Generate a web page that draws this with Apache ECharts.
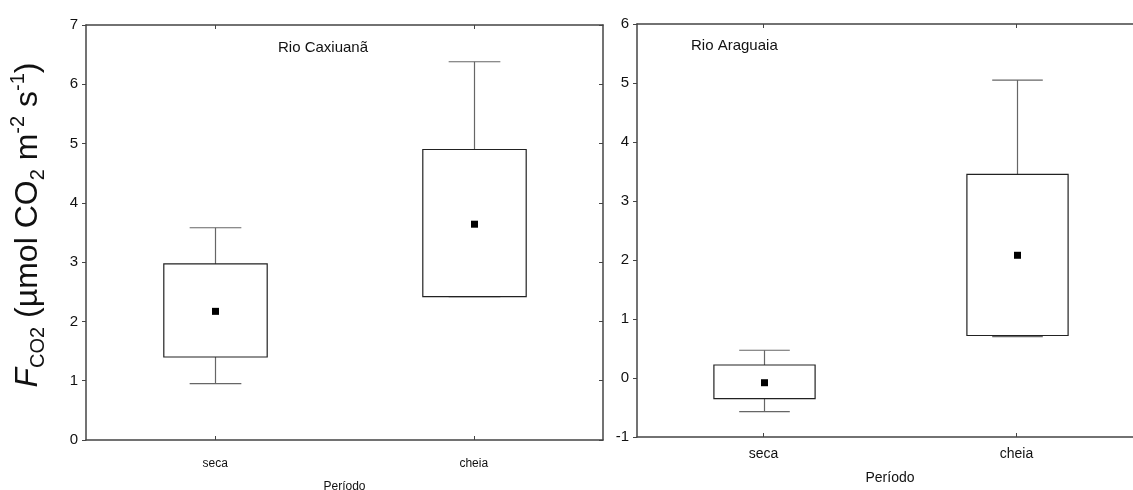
<!DOCTYPE html>
<html>
<head>
<meta charset="utf-8">
<script src="https://cdn.jsdelivr.net/npm/echarts@6/dist/echarts.min.js"></script>
<style>html,body{margin:0;padding:0;background:#fff;}#c{width:1133px;height:490px;}</style>
</head>
<body>
<div id="c"></div>
<script>
const categories = ['seca', 'cheia'];
const yTicksLeft = { min: 0, max: 7, interval: 1 };
const yTicksRight = { min: -1, max: 6, interval: 1 };

// Rio Caxiuanã
const caxMin  = [0.95, 2.42];
const caxQ1   = [1.40, 2.42];
const caxMean = [2.17, 3.64];
const caxQ3   = [2.97, 4.90];
const caxMax  = [3.58, 6.38];

// Rio Araguaia
const araMin  = [-0.57, 0.70];
const araQ1   = [-0.35, 0.72];
const araMean = [-0.08, 2.08];
const araQ3   = [0.22, 3.45];
const araMax  = [0.47, 5.05];

function rows(mn, q1, me, q3, mx) {
  return categories.map((c, i) => [i, mn[i], q1[i], me[i], q3[i], mx[i]]);
}

function renderItem(params, api) {
  const x = api.value(0);
  const mn = api.value(1), q1 = api.value(2), me = api.value(3), q3 = api.value(4), mx = api.value(5);
  const band = api.size([1, 0])[0];
  const bw = band * 0.4, cw = band * 0.2;
  const pMx = api.coord([x, mx]), pQ3 = api.coord([x, q3]), pQ1 = api.coord([x, q1]), pMn = api.coord([x, mn]), pMe = api.coord([x, me]);
  const cx = Math.round(pMx[0]) + 0.5;
  const wStyle = { stroke: '#666', lineWidth: 1.2, fill: null };
  const children = [
    { type: 'line', shape: { x1: cx, y1: pMx[1], x2: cx, y2: pQ3[1] }, style: wStyle },
    { type: 'line', shape: { x1: cx - cw / 2, y1: pMx[1], x2: cx + cw / 2, y2: pMx[1] }, style: wStyle },
    { type: 'line', shape: { x1: cx, y1: pQ1[1], x2: cx, y2: pMn[1] }, style: wStyle },
    { type: 'line', shape: { x1: cx - cw / 2, y1: pMn[1], x2: cx + cw / 2, y2: pMn[1] }, style: wStyle },
    { type: 'rect', shape: { x: cx - bw / 2, y: pQ3[1], width: bw, height: pQ1[1] - pQ3[1] },
      style: { fill: '#fff', stroke: '#222', lineWidth: 1.2 } },
    { type: 'rect', shape: { x: cx - 3.5, y: pMe[1] - 3.5, width: 7, height: 7 }, style: { fill: '#000' } }
  ];
  return { type: 'group', children };
}

const axisLineStyle = { color: '#444', width: 1.5 };
const labelFont = 'Liberation Sans, Arial, sans-serif';

function xAxes(gridIndex, fontSize, nameGap, margin) {
  return [
    {
      type: 'category', gridIndex, data: categories, position: 'bottom',
      axisLine: { show: true, onZero: false, lineStyle: axisLineStyle },
      axisTick: { show: true, inside: true, alignWithLabel: true, length: 4, lineStyle: { color: '#444' } },
      axisLabel: { color: '#111', fontSize, fontFamily: labelFont, margin },
      splitLine: { show: false },
      name: 'Período', nameLocation: 'middle', nameGap,
      nameTextStyle: { color: '#111', fontSize, fontFamily: labelFont }
    },
    {
      type: 'category', gridIndex, data: categories, position: 'top',
      axisLine: { show: true, onZero: false, lineStyle: axisLineStyle },
      axisTick: { show: true, inside: true, alignWithLabel: true, length: 4, lineStyle: { color: '#444' } },
      axisLabel: { show: false }, splitLine: { show: false }
    }
  ];
}

function yAxes(gridIndex, t) {
  return [
    {
      type: 'value', gridIndex, min: t.min, max: t.max, interval: t.interval, position: 'left',
      axisLine: { show: true, onZero: false, lineStyle: axisLineStyle },
      axisTick: { show: true, inside: false, length: 4, lineStyle: { color: '#444' } },
      axisLabel: { color: '#111', fontSize: 15, fontFamily: labelFont, margin: 8 },
      splitLine: { show: false }
    },
    {
      type: 'value', gridIndex, min: t.min, max: t.max, interval: t.interval, position: 'right',
      axisLine: { show: true, onZero: false, lineStyle: axisLineStyle },
      axisTick: { show: true, inside: true, length: 4, lineStyle: { color: '#444' } },
      axisLabel: { show: false }, splitLine: { show: false }
    }
  ];
}

const chart = echarts.init(document.getElementById('c'), null, { renderer: 'canvas' });
chart.setOption({
  animation: false,
  backgroundColor: '#fff',
  grid: [
    { left: 86, top: 25, width: 517, height: 415, outerBoundsMode: 'none', containLabel: false },
    { left: 637, top: 24, width: 506, height: 413, outerBoundsMode: 'none', containLabel: false }
  ],
  xAxis: [...xAxes(0, 12, 41, 18), ...xAxes(1, 14, 34, 10)],
  yAxis: [...yAxes(0, yTicksLeft), ...yAxes(1, yTicksRight)],
  series: [
    { type: 'custom', name: 'Rio Caxiuanã', xAxisIndex: 0, yAxisIndex: 0,
      renderItem, data: rows(caxMin, caxQ1, caxMean, caxQ3, caxMax),
      encode: { x: 0, y: [1, 2, 3, 4, 5] } },
    { type: 'custom', name: 'Rio Araguaia', xAxisIndex: 2, yAxisIndex: 2,
      renderItem, data: rows(araMin, araQ1, araMean, araQ3, araMax),
      encode: { x: 0, y: [1, 2, 3, 4, 5] } }
  ],
  graphic: [
    { type: 'text', left: 278, top: 40,
      style: { text: 'Rio Caxiuanã', fill: '#111', font: '15px ' + labelFont } },
    { type: 'text', left: 691, top: 38,
      style: { text: 'Rio Araguaia', fill: '#111', font: '15px ' + labelFont } },
    { type: 'text', x: 28, y: 225, rotation: Math.PI / 2,
      style: {
        text: '{f|F}{sub|CO2}{m| (µmol CO}{sub|2}{m| m}{sup|-2}{m| s}{sup|-1}{m|)}',
        align: 'center', verticalAlign: 'middle', fill: '#111',
        rich: {
          f: { fontSize: 32, fontStyle: 'italic', fontFamily: labelFont, lineHeight: 40, fill: '#111' },
          m: { fontSize: 32, fontFamily: labelFont, lineHeight: 40, fill: '#111' },
          sub: { fontSize: 20, fontFamily: labelFont, lineHeight: 22, verticalAlign: 'bottom', fill: '#111' },
          sup: { fontSize: 20, fontFamily: labelFont, lineHeight: 22, verticalAlign: 'top', fill: '#111' }
        }
      } }
  ]
});
</script>
</body>
</html>
